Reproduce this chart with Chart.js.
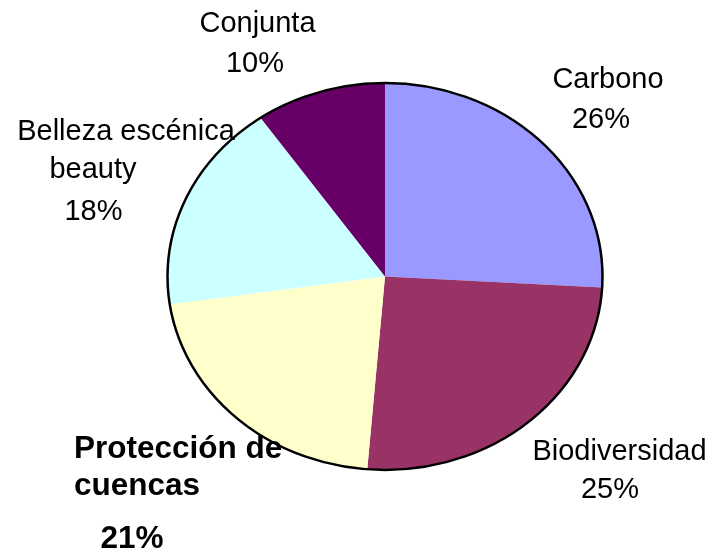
<!DOCTYPE html>
<html>
<head>
<meta charset="utf-8">
<script src="https://cdn.jsdelivr.net/npm/chart.js@4"></script>
<style>
  html, body { margin: 0; padding: 0; background: #ffffff; }
  #wrap { width: 711px; height: 552px; position: relative; }
</style>
</head>
<body>
<div id="wrap"><canvas id="c" width="711" height="552"></canvas></div>
<script>
// ---- data ----
const categories = ["Carbono", "Biodiversidad", "Protección de cuencas", "Belleza escénica beauty", "Conjunta"];
const values = [25.9, 25.4, 21.4, 17.6, 9.7];
const colors = ["#9999FF", "#993366", "#FFFFCC", "#CCFFFF", "#660066"];
// label lines as shown in the picture (the percentage line is added after them)
const labelLines = [
  ["Carbono"],
  ["Biodiversidad"],
  ["Protección de", "cuencas"],
  ["Belleza escénica", "beauty"],
  ["Conjunta"]
];

// ---- layout (label anchors relative to pie centre: [dx, dy, align]) ----
const labelLayout = [
  { lines: [[223, -188.5, 'center'], [216, -148.5, 'center']], bold: false },
  { lines: [[234.5, 183.5, 'center'], [225, 221.5, 'center']], bold: false },
  { lines: [[-311, 181.5, 'left'], [-311, 218.5, 'left'], [-253, 271.5, 'center']], bold: true },
  { lines: [[-259, -136.5, 'center'], [-292, -98.5, 'center'], [-291.5, -56.5, 'center']], bold: false },
  { lines: [[-127.5, -244.5, 'center'], [-130, -204.5, 'center']], bold: false }
];
const xStretch = 217.5 / 193.5; // pie is drawn as an ellipse

const ellipsePlugin = {
  id: 'ellipse',
  beforeDatasetsDraw(chart) {
    const arc = chart.getDatasetMeta(0).data[0];
    const ctx = chart.ctx;
    ctx.save();
    ctx.translate(arc.x, 0);
    ctx.scale(xStretch, 1);
    ctx.translate(-arc.x, 0);
  },
  afterDatasetsDraw(chart) {
    const ctx = chart.ctx;
    ctx.restore();
    const arc = chart.getDatasetMeta(0).data[0];
    ctx.save();
    ctx.beginPath();
    ctx.ellipse(arc.x, arc.y, arc.outerRadius * xStretch, arc.outerRadius, 0, 0, Math.PI * 2);
    ctx.lineWidth = 2.5;
    ctx.strokeStyle = '#000000';
    ctx.stroke();
    ctx.restore();
  },
  afterDraw(chart) {
    const arc = chart.getDatasetMeta(0).data[0];
    const ctx = chart.ctx;
    ctx.save();
    ctx.fillStyle = '#000000';
    ctx.textBaseline = 'alphabetic';
    labelLayout.forEach((lay, i) => {
      const texts = labelLines[i].concat([Math.round(values[i]) + '%']);
      ctx.font = (lay.bold ? 'bold 31.5px' : '29px') + ' "Liberation Sans", Arial, sans-serif';
      texts.forEach((t, j) => {
        const p = lay.lines[j];
        ctx.textAlign = p[2];
        ctx.fillText(t, arc.x + p[0], arc.y + p[1]);
      });
    });
    ctx.restore();
  }
};

new Chart(document.getElementById('c'), {
  type: 'pie',
  data: {
    labels: categories,
    datasets: [{
      data: values,
      backgroundColor: colors,
      borderWidth: 0,
      clip: false
    }]
  },
  options: {
    responsive: false,
    animation: false,
    rotation: 0,
    layout: { padding: { left: 191.5, right: 132.5, top: 83, bottom: 82 } },
    plugins: {
      legend: { display: false },
      tooltip: { enabled: false }
    },
    events: []
  },
  plugins: [ellipsePlugin]
});
</script>
</body>
</html>
